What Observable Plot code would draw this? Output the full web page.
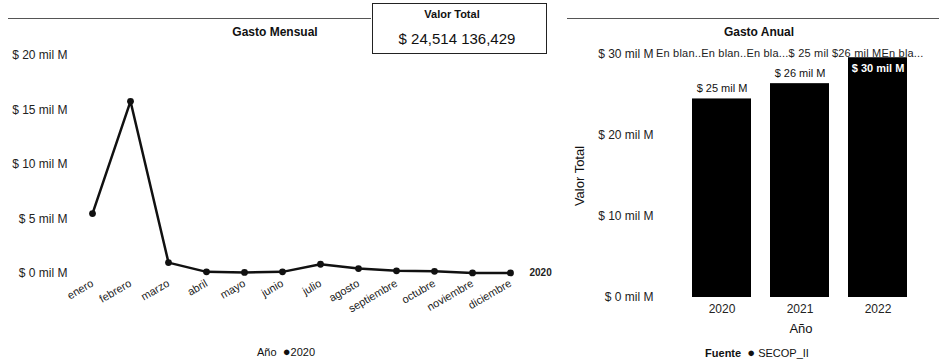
<!DOCTYPE html>
<html><head><meta charset="utf-8">
<script src="https://cdn.jsdelivr.net/npm/d3@7"></script>
<script src="https://cdn.jsdelivr.net/npm/@observablehq/plot@0.6"></script>
<style>
body{margin:0;background:#fff;font-family:"Liberation Sans",Arial,sans-serif;}
#wrap{position:relative;width:939px;height:362px;overflow:hidden;background:#fff}
.abs{position:absolute;white-space:nowrap;color:#111;line-height:1}
.c{transform:translate(-50%,-50%)}
svg{position:absolute;top:0}
</style></head><body><div id="wrap"></div>
<script>
// ---- data ----
const meses = ["enero","febrero","marzo","abril","mayo","junio","julio","agosto","septiembre","octubre","noviembre","diciembre"];
const gastoMensual = [5.5, 15.8, 1.0, 0.15, 0.1, 0.15, 0.85, 0.45, 0.25, 0.2, 0.05, 0.05];
const anioMensual = "2020";
const anios = ["2020","2021","2022"];
const gastoAnual = [24.514, 26.4, 29.6];
const ticksMensual = [0, 5, 10, 15, 20];
const ticksAnual = [0, 10, 20, 30];
const valorTotal = "$ 24,514 136,429";
const cabecera = "En blan..En blan..En bla...$ 25 mil $26 mil MEn bla...";
const fuente = "SECOP_II";

const FONT = '"Liberation Sans", Arial, sans-serif';
const fmt = d => `$ ${d} mil M`;
const wrap = document.getElementById("wrap");

function addText(txt, x, y, css, center=true){
  const d = document.createElement("div");
  d.className = "abs" + (center ? " c" : "");
  d.textContent = txt;
  d.style.left = x + "px"; d.style.top = y + "px";
  Object.assign(d.style, css || {});
  wrap.appendChild(d);
  return d;
}

// ---- left: Gasto Mensual ----
const mensual = meses.map((m,i) => ({mes:m, valor:gastoMensual[i], anio:anioMensual}));
const left = Plot.plot({
  width:560, height:362, marginTop:55, marginBottom:89, marginLeft:92, marginRight:50,
  style:{fontFamily:FONT, fontSize:"11px", color:"#222", background:"transparent", overflow:"visible"},
  x:{type:"point", domain:meses, padding:0},
  y:{domain:[0,20]},
  marks:[
    Plot.axisY({ticks:ticksMensual, tickFormat:fmt, tickSize:0, tickPadding:25, label:null, fontSize:12}),
    Plot.axisX({tickRotate:-30, tickSize:0, tickPadding:9, label:null, fontSize:11}),
    Plot.line(mensual, {x:"mes", y:"valor", stroke:"#111", strokeWidth:2.5}),
    Plot.dot(mensual, {x:"mes", y:"valor", r:3.4, fill:"#111"}),
    Plot.text(mensual.slice(-1), {x:"mes", y:"valor", text:"anio", dx:19, textAnchor:"start", fontWeight:"bold", fontSize:10})
  ]
});
left.style.left = "0px";
wrap.appendChild(left);

// ---- right: Gasto Anual ----
const anual = anios.map((a,i) => ({anio:a, valor:gastoAnual[i], etiqueta:fmt(Math.round(gastoAnual[i]))}));
const right = Plot.plot({
  width:379, height:362, marginTop:54, marginBottom:65, marginLeft:113, marginRight:12,
  style:{fontFamily:FONT, fontSize:"12px", color:"#222", background:"transparent", overflow:"visible"},
  x:{domain:anios, padding:0.24},
  y:{domain:[0,30]},
  marks:[
    Plot.axisY({ticks:ticksAnual, tickFormat:fmt, tickSize:0, tickPadding:20, label:null, fontSize:12}),
    Plot.axisX({tickSize:0, tickPadding:7, label:null, fontSize:12}),
    Plot.barY(anual, {x:"anio", y:"valor", fill:"#000"}),
    Plot.text(anual.filter(d => d.valor < 29), {x:"anio", y:"valor", text:"etiqueta", dy:-10, fontSize:11, fill:"#111"}),
    Plot.text(anual.filter(d => d.valor >= 29), {x:"anio", y:"valor", text:"etiqueta", dy:11, fontSize:11, fill:"#fff", fontWeight:"bold"})
  ]
});
right.style.left = "560px";
wrap.appendChild(right);

// ---- decorations / titles ----
function hline(x1, x2, y){
  const d = document.createElement("div");
  d.className = "abs";
  Object.assign(d.style, {left:x1+"px", top:y+"px", width:(x2-x1)+"px", height:"0px", borderTop:"1px solid #555"});
  wrap.appendChild(d);
}
hline(8, 371, 18);
hline(567, 939, 18);

const box = document.createElement("div");
box.className = "abs";
Object.assign(box.style, {left:"372px", top:"3px", width:"175px", height:"51px", border:"1px solid #222", boxSizing:"border-box", background:"#fff"});
wrap.appendChild(box);
addText("Valor Total", 452, 14, {fontWeight:"bold", fontSize:"11px"});
addText(valorTotal, 457, 38, {fontSize:"15px"});

addText("Gasto Mensual", 275, 32, {fontWeight:"bold", fontSize:"12px"});
addText("Gasto Anual", 759, 32, {fontWeight:"bold", fontSize:"12px"});
addText(cabecera, 656, 48, {fontSize:"11px", color:"#222", letterSpacing:"0.2px"}, false);

addText("Valor Total", 579, 176, {fontSize:"13px", transform:"translate(-50%,-50%) rotate(-90deg)"}, false);
addText("Año", 801, 328, {fontSize:"13px"});

const legL = addText("", 286, 351, {fontSize:"11px"});
legL.innerHTML = 'Año&nbsp;&nbsp;<span style="font-size:13px">\u25CF</span>' + anioMensual;
const legR = addText("", 757, 352, {fontSize:"11px"});
legR.innerHTML = '<b>Fuente</b>&nbsp;&nbsp;<span style="font-size:13px">\u25CF</span>&nbsp;' + fuente;
</script>
</body></html>
